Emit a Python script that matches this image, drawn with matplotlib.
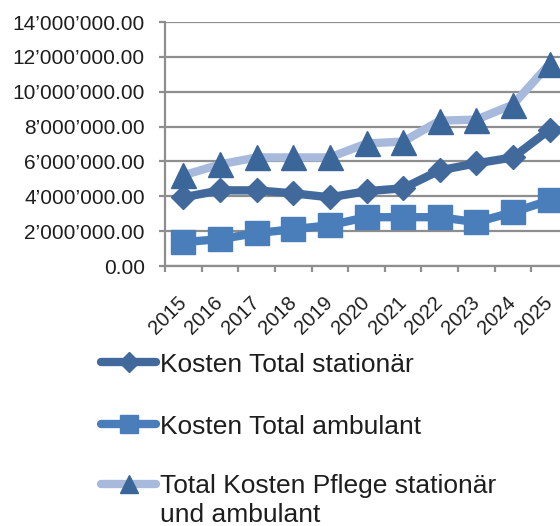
import matplotlib
matplotlib.use("Agg")
import matplotlib.pyplot as plt
from matplotlib.lines import Line2D
from matplotlib.ticker import FuncFormatter, MultipleLocator, FixedLocator

plt.rcParams['font.family'] = ['Liberation Sans', 'DejaVu Sans']

years = ["2015", "2016", "2017", "2018", "2019", "2020", "2021", "2022", "2023", "2024", "2025"]
kosten_stationaer = [3.94e6, 4.34e6, 4.34e6, 4.17e6, 3.94e6, 4.29e6, 4.46e6, 5.49e6, 5.89e6, 6.23e6, 7.83e6]
kosten_ambulant = [1.37e6, 1.54e6, 1.89e6, 2.11e6, 2.34e6, 2.80e6, 2.80e6, 2.80e6, 2.51e6, 3.09e6, 3.77e6]
kosten_pflege_total = [5.20e6, 5.83e6, 6.23e6, 6.23e6, 6.23e6, 7.03e6, 7.14e6, 8.34e6, 8.40e6, 9.26e6, 11.60e6]

labels = ["Kosten Total stationär", "Kosten Total ambulant",
          "Total Kosten Pflege stationär\nund ambulant"]

c_stat = "#41699c"
c_amb = "#4a7ebb"
c_pfl_line = "#a8badb"
c_pfl_mark = "#3b6699"
grid_c = "#8e8e8e"
text_c = "#1e1e1e"

fig = plt.figure(figsize=(5.6, 5.26), dpi=100)
ax = fig.add_axes([165 / 560, 1 - 266 / 526, (568 - 165) / 560, (266 - 22) / 526])

x = list(range(len(years)))
styles = [
    (kosten_stationaer, c_stat, c_stat, "D", 12.5, 10),
    (kosten_ambulant, c_amb, c_amb, "s", 17.5, 13),
    (kosten_pflege_total, c_pfl_line, c_pfl_mark, "^", 18, 13.5),
]
for vals, lc, mc, mk, ms, _ in styles:
    ax.plot(x, vals, color=lc, lw=6, marker=mk, ms=ms, mfc=mc, mec=mc,
            solid_capstyle="round", solid_joinstyle="round", clip_on=False, zorder=3)

ax.set_xlim(-0.5, len(years) - 0.5)
ax.set_ylim(0, 14e6)
ax.yaxis.set_major_locator(MultipleLocator(2e6))
ax.yaxis.set_major_formatter(FuncFormatter(lambda v, p: f"{v:,.2f}".replace(",", "\u2019")))
ax.grid(axis="y", color=grid_c, lw=1.6)
ax.set_axisbelow(True)

ax.set_xticks(x)
ax.set_xticklabels(years, rotation=45, ha="right", va="center", rotation_mode="anchor",
                   color=text_c)
ax.xaxis.set_minor_locator(FixedLocator([i - 0.5 for i in range(len(years) + 1)]))
ax.tick_params(axis="x", which="major", length=0, pad=24, labelsize=14.5)
ax.tick_params(axis="x", which="minor", length=4.5, width=1.6, color=grid_c)
ax.tick_params(axis="y", length=4.5, width=1.6, color=grid_c, labelsize=15, pad=10,
               labelcolor=text_c)

for s in ["top", "right"]:
    ax.spines[s].set_visible(False)
for s in ["left", "bottom"]:
    ax.spines[s].set_color(grid_c)
    ax.spines[s].set_linewidth(1.6)

# legend drawn below the plot
leg_y = [362, 424, 484]
leg_base = [[372], [434], [493, 522]]
for (vals, lc, mc, mk, ms, lms), lab, yy, bases in zip(styles, labels, leg_y, leg_base):
    yf = 1 - yy / 526
    fig.add_artist(Line2D([101 / 560, 156 / 560], [yf, yf], color=lc, lw=6,
                          solid_capstyle="round", transform=fig.transFigure))
    fig.add_artist(Line2D([128.5 / 560], [yf], marker=mk, ms=lms, mfc=mc, mec=mc,
                          transform=fig.transFigure))
    for line, base in zip(lab.split("\n"), bases):
        fig.text(160 / 560, 1 - base / 526, line, fontsize=19, va="baseline",
                 ha="left", color=text_c)

fig.savefig("out.png", dpi=100)
